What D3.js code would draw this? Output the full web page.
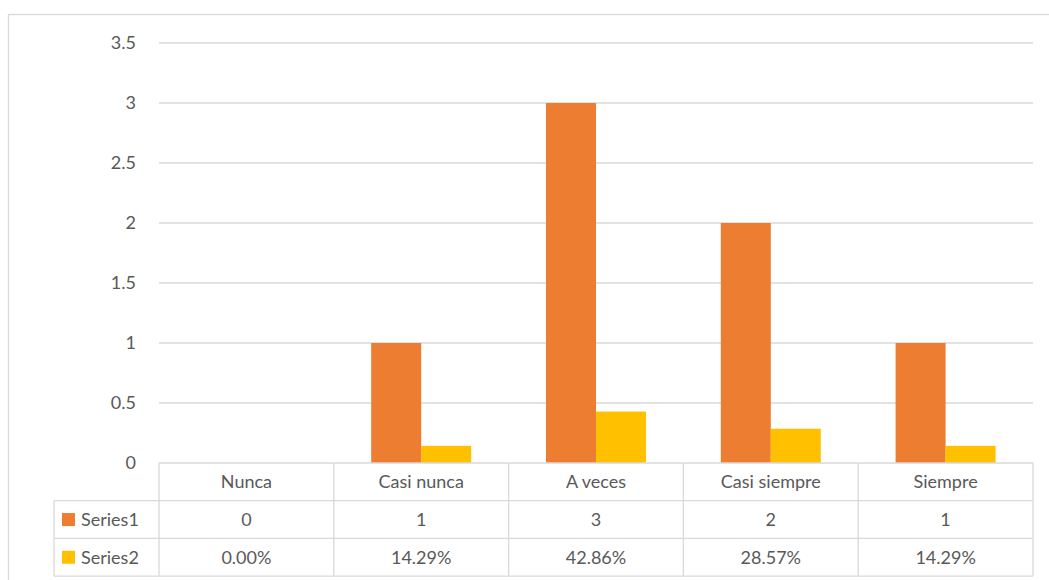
<!DOCTYPE html>
<html>
<head>
<meta charset="utf-8">
<script src="https://cdn.jsdelivr.net/npm/d3@7"></script>
<style>
  body { margin: 0; background: #fff; }
  text { font-family: Lato, "Open Sans", sans-serif; fill: #595959; }
</style>
</head>
<body>
<script>
// datos del gráfico
const categorias = ["Nunca", "Casi nunca", "A veces", "Casi siempre", "Siempre"];
const series = ["Series1", "Series2"];
const serie1 = [0, 1, 3, 2, 1];
const serie2 = [0.0, 0.1429, 0.4286, 0.2857, 0.1429];
const yTicks = [0, 0.5, 1, 1.5, 2, 2.5, 3, 3.5];
const colores = ["#ED7D31", "#FFC000"];

const width = 1049, height = 580;
const margenIzq = 159, margenDer = 1033, margenSup = 43, margenInf = 463;
const rowH = 37.7;

const svg = d3.select("body").append("svg")
  .attr("width", width)
  .attr("height", height);

// borde del gráfico
svg.append("rect")
  .attr("x", 8.5).attr("y", 14.5)
  .attr("width", 1060).attr("height", 600)
  .attr("fill", "none")
  .attr("stroke", "#D9D9D9")
  .attr("stroke-width", 1.3);

const x0 = d3.scaleBand().domain(categorias).range([margenIzq, margenDer]).padding(0);
const x1 = d3.scaleBand().domain(series).range([0, x0.bandwidth()])
  .paddingInner(0).paddingOuter(0.748);
const y = d3.scaleLinear().domain([0, 3.5]).range([margenInf, margenSup]);

// líneas de la cuadrícula
svg.append("g")
  .selectAll("line")
  .data(yTicks.filter(d => d > 0))
  .join("line")
  .attr("x1", margenIzq).attr("x2", margenDer)
  .attr("y1", d => y(d)).attr("y2", d => y(d))
  .attr("stroke", "#D9D9D9")
  .attr("stroke-width", 1.3);

// eje Y
const yAxis = svg.append("g")
  .attr("transform", "translate(136,0)")
  .call(d3.axisLeft(y).tickValues(yTicks).tickSize(0).tickPadding(0).tickFormat(d3.format("")));
yAxis.select(".domain").remove();
yAxis.selectAll("text")
  .style("font-size", "18px")
  .style("font-family", "Lato, 'Open Sans', sans-serif")
  .attr("fill", "#595959");

// barras
const datos = categorias.map((c, i) => ({ cat: c, vals: [serie1[i], serie2[i]] }));
svg.append("g")
  .selectAll("g")
  .data(datos)
  .join("g")
  .attr("transform", d => "translate(" + x0(d.cat) + ",0)")
  .selectAll("rect")
  .data(d => d.vals.map((v, j) => ({ serie: series[j], v: v, j: j })))
  .join("rect")
  .attr("x", d => x1(d.serie))
  .attr("width", x1.bandwidth())
  .attr("y", d => y(d.v))
  .attr("height", d => y(0) - y(d.v))
  .attr("fill", d => colores[d.j]);

// tabla de datos
const tabla = svg.append("g")
  .attr("stroke", "#D9D9D9")
  .attr("stroke-width", 1.3);
const colIzq = 54;
const rowY = [margenInf, margenInf + rowH, margenInf + 2 * rowH, margenInf + 3 * rowH];

// líneas horizontales
tabla.append("line").attr("x1", margenIzq).attr("x2", margenDer).attr("y1", rowY[0]).attr("y2", rowY[0]);
[1, 2, 3].forEach(k => {
  tabla.append("line").attr("x1", colIzq).attr("x2", margenDer).attr("y1", rowY[k]).attr("y2", rowY[k]);
});
// líneas verticales
const bordes = categorias.map(c => x0(c)).concat([margenDer]);
bordes.forEach(bx => {
  tabla.append("line").attr("x1", bx).attr("x2", bx).attr("y1", rowY[0]).attr("y2", rowY[3]);
});
tabla.append("line").attr("x1", colIzq).attr("x2", colIzq).attr("y1", rowY[1]).attr("y2", rowY[3]);

// encabezados de categoría
svg.append("g")
  .selectAll("text")
  .data(categorias)
  .join("text")
  .attr("x", d => x0(d) + x0.bandwidth() / 2)
  .attr("y", rowY[0] + rowH / 2)
  .attr("dy", "0.35em")
  .attr("text-anchor", "middle")
  .style("font-size", "18px")
  .text(d => d);

// filas de valores
const fmtPct = d3.format(".2%");
const filas = [
  { nombre: series[0], vals: serie1.map(v => String(v)) },
  { nombre: series[1], vals: serie2.map(v => fmtPct(v)) }
];
filas.forEach((f, k) => {
  const cy = rowY[k + 1] + rowH / 2;
  svg.append("rect")
    .attr("x", 62).attr("y", cy - 6.5)
    .attr("width", 13).attr("height", 13)
    .attr("fill", colores[k]);
  svg.append("text")
    .attr("x", 81).attr("y", cy)
    .attr("dy", "0.35em")
    .style("font-size", "18px")
    .text(f.nombre);
  svg.append("g")
    .selectAll("text")
    .data(f.vals)
    .join("text")
    .attr("x", (d, i) => x0(categorias[i]) + x0.bandwidth() / 2)
    .attr("y", cy)
    .attr("dy", "0.35em")
    .attr("text-anchor", "middle")
    .style("font-size", "18px")
    .text(d => d);
});
</script>
</body>
</html>
